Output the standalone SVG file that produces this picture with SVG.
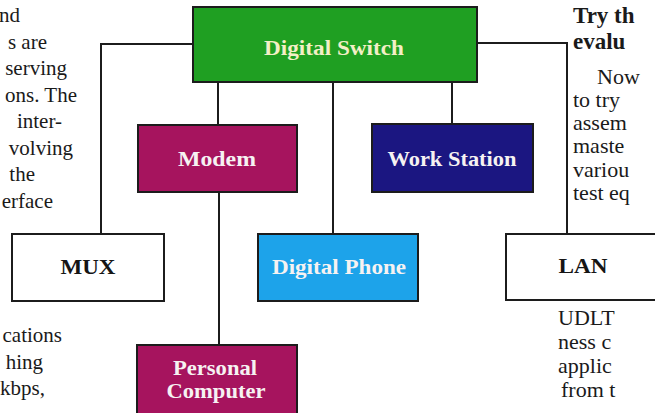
<svg xmlns="http://www.w3.org/2000/svg" width="655" height="413" viewBox="0 0 655 413">
<style>
.box{stroke:#1c1c1c;stroke-width:2}
.lbl{font-family:"Liberation Serif","Times New Roman",serif;font-weight:bold;font-size:21px;text-anchor:middle}
.w{fill:#f6f2f2}
.k{fill:#151515}
.body{font-family:"Liberation Serif","Times New Roman",serif;font-size:21px;fill:#1a1a1a}
.rb{font-size:22px}
.head{font-family:"Liberation Serif","Times New Roman",serif;font-size:23px;font-weight:bold;fill:#1a1a1a}
.con{fill:none;stroke:#1c1c1c;stroke-width:2}
</style>
<rect width="655" height="413" fill="#ffffff"/>
<g id="connectors">
<polyline class="con" points="193,44 101,44 101,234"/>
<line class="con" x1="218" y1="82" x2="218" y2="125"/>
<line class="con" x1="219" y1="192" x2="219" y2="345"/>
<line class="con" x1="333" y1="82" x2="333" y2="234"/>
<line class="con" x1="452" y1="82" x2="452" y2="124"/>
<polyline class="con" points="477,43 567,43 567,234"/>
</g>
<g id="digital-switch">
<rect class="box" x="193" y="7" width="284" height="75" fill="#1f9f22"/>
<text class="lbl" x="334" y="55" fill="#f3efc6" textLength="140" lengthAdjust="spacingAndGlyphs">Digital Switch</text>
</g>
<g id="modem">
<rect class="box" x="138" y="125" width="159" height="67" fill="#a6145e"/>
<text class="lbl w" x="217" y="166" textLength="78" lengthAdjust="spacingAndGlyphs">Modem</text>
</g>
<g id="work-station">
<rect class="box" x="372" y="124" width="161" height="68" fill="#1b1681"/>
<text class="lbl w" x="452" y="166" textLength="129" lengthAdjust="spacingAndGlyphs">Work Station</text>
</g>
<g id="mux">
<rect class="box" x="12" y="234" width="152" height="67" fill="#ffffff"/>
<text class="lbl k" x="88" y="274" textLength="55" lengthAdjust="spacingAndGlyphs">MUX</text>
</g>
<g id="digital-phone">
<rect class="box" x="258" y="234" width="160" height="67" fill="#1da3ea"/>
<text class="lbl w" x="339" y="274" textLength="134" lengthAdjust="spacingAndGlyphs">Digital Phone</text>
</g>
<g id="lan">
<rect class="box" x="506" y="234" width="220" height="66" fill="#ffffff"/>
<text class="lbl k" x="583" y="273" textLength="49" lengthAdjust="spacingAndGlyphs">LAN</text>
</g>
<g id="personal-computer">
<rect class="box" x="137" y="345" width="160" height="80" fill="#a6145e"/>
<text class="lbl w" x="215" y="375" textLength="84" lengthAdjust="spacingAndGlyphs">Personal</text>
<text class="lbl w" x="216" y="398" textLength="99" lengthAdjust="spacingAndGlyphs">Computer</text>
</g>
<g id="left-text" class="body" text-anchor="end">
<text x="20" y="22">nd</text>
<text x="47" y="49">s are</text>
<text x="67" y="75">serving</text>
<text x="77" y="102">ons. The</text>
<text x="62" y="128">inter-</text>
<text x="73" y="155">volving</text>
<text x="35" y="181">the</text>
<text x="53" y="208">erface</text>
<text x="62" y="342">cations</text>
<text x="43" y="369">hing</text>
<text x="45" y="395">kbps,</text>
</g>
<g id="right-text">
<text class="head" x="573" y="23">Try th</text>
<text class="head" x="573" y="49">evalu</text>
<text class="body rb" x="597" y="84">Now</text>
<text class="body rb" x="573" y="107">to try</text>
<text class="body rb" x="573" y="130">assem</text>
<text class="body rb" x="573" y="153">maste</text>
<text class="body rb" x="573" y="177">variou</text>
<text class="body rb" x="573" y="200">test eq</text>
<text class="body rb" x="558" y="325">UDLT</text>
<text class="body rb" x="558" y="349">ness c</text>
<text class="body rb" x="558" y="373">applic</text>
<text class="body rb" x="561" y="397">from t</text>
</g>
</svg>
